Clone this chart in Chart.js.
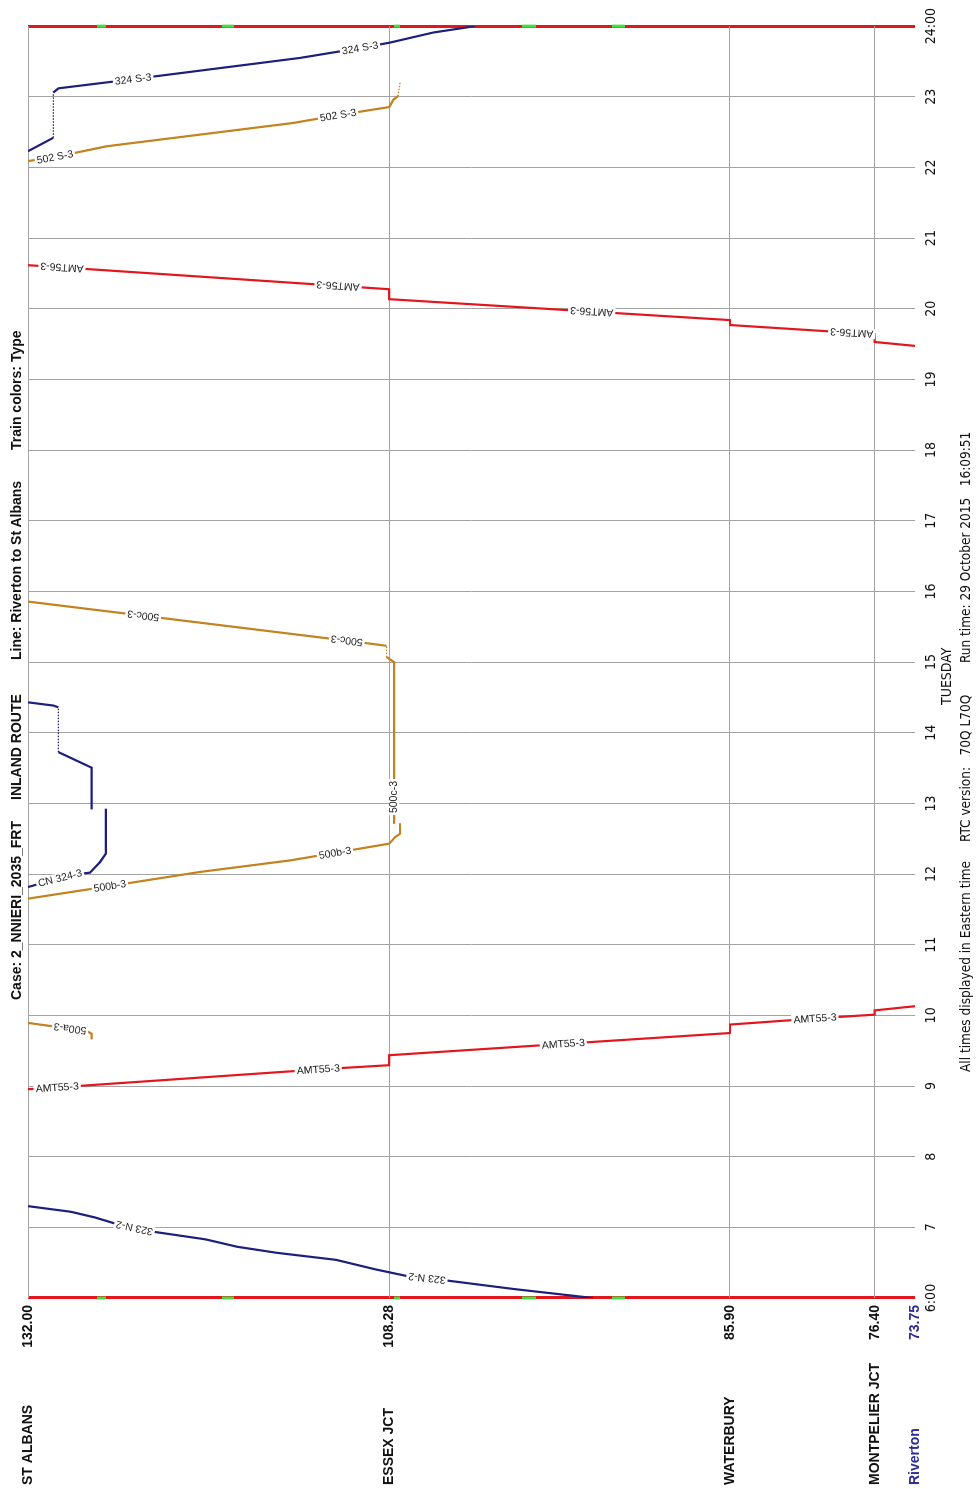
<!DOCTYPE html>
<html>
<head>
<meta charset="utf-8">
<script src="https://cdn.jsdelivr.net/npm/chart.js@4.4.0/dist/chart.umd.min.js"></script>
<style>
  html, body { margin: 0; padding: 0; background: #fff; }
  body { width: 977px; height: 1489px; overflow: hidden; position: relative; }
  /* the graph is laid out landscape and turned a quarter turn, like the printed sheet */
  #sheet { position: absolute; left: 0; top: 0; width: 1489px; height: 977px;
           transform-origin: 0 0; transform: translate(0, 1489px) rotate(-90deg); }
  #sheet canvas { position: absolute; left: 0; top: 0; }
  .t { position: absolute; white-space: nowrap; color: #111; }
  .head { top: 8px; font: bold 14px 'Liberation Sans', Arial, sans-serif; }
  .foot { top: 957px; font: 13.5px 'Liberation Sans Narrow', 'DejaVu Sans Condensed', sans-serif; }
  .day { top: 938px; font: 14px 'Liberation Sans Narrow', 'DejaVu Sans Condensed', sans-serif; }
</style>
</head>
<body>
<div id="sheet">
  <canvas id="chart" width="1489" height="977"></canvas>
  <div class="t head" style="left:489px">Case: 2_NNIERI_2035_FRT</div>
  <div class="t head" style="left:689px">INLAND ROUTE</div>
  <div class="t head" style="left:829px">Line: Riverton to St Albans</div>
  <div class="t head" style="left:1039px">Train colors: Type</div>
  <div class="t day" style="left:784px">TUESDAY</div>
  <div class="t foot" style="left:417px">All times displayed in Eastern time</div>
  <div class="t foot" style="left:647px">RTC version:&nbsp;&nbsp;&nbsp;70Q L70Q</div>
  <div class="t foot" style="left:826px">Run time: 29 October 2015&nbsp;&nbsp;&nbsp;16:09:51</div>
</div>
<script>
const hourTicks = [6, 7, 8, 9, 10, 11, 12, 13, 14, 15, 16, 17, 18, 19, 20, 21, 22, 23, 24];
const hourLabels = ['6:00', '7', '8', '9', '10', '11', '12', '13', '14', '15', '16', '17', '18', '19', '20', '21', '22', '23', '24:00'];

const stationNames = ['Riverton', 'MONTPELIER JCT', 'WATERBURY', 'ESSEX JCT', 'ST ALBANS'];
const stationMileposts = [73.75, 76.40, 85.90, 108.28, 132.00];

// sidings marked green along the day boundaries
const sidingStart = [127.47, 119.26, 107.96, 99.56, 93.65];
const sidingEnd = [126.88, 118.47, 107.57, 98.64, 92.79];

// train paths as [hour, milepost]
const train323N = [[6.00, 94.90], [6.127, 100.10], [6.255, 104.77], [6.28, 105.80], [6.31, 107.10], [6.405, 109.18],
  [6.54, 111.77], [6.64, 115.67], [6.725, 118.26], [6.83, 120.34], [6.94, 123.84], [6.99, 125.01],
  [7.056, 126.31], [7.14, 127.61], [7.22, 129.17], [7.30, 132.00]];
const trainAMT55 = [[8.955, 132.00], [8.98, 130.08], [9.235, 112.94], [9.295, 108.28], [9.436, 108.28], [9.597, 96.85],
  [9.75, 85.90], [9.87, 85.90], [9.956, 80.32], [10.01, 76.40], [10.07, 76.40], [10.13, 73.75]];
const train500a = [[9.66, 127.82], [9.74, 127.82], [9.78, 128.15], [9.812, 129.24], [9.893, 132.00]];
const trainCN324a = [[11.816, 132.00], [11.943, 129.90], [12.005, 128.47], [12.02, 127.93], [12.17, 127.27],
  [12.29, 126.88], [12.925, 126.88]];
const trainCN324b = [[12.915, 127.82], [13.505, 127.82], [13.725, 130.00], [14.36, 130.00], [14.385, 130.34], [14.43, 132.00]];
const train500b = [[11.652, 132.00], [11.83, 126.62], [12.03, 120.70], [12.193, 114.79], [12.30, 111.84],
  [12.43, 108.28], [12.52, 107.90], [12.57, 107.57], [12.72, 107.57]];
const train500c = [[12.71, 107.96], [13.09, 107.96], [15.00, 107.96], [15.07, 108.45], [15.23, 108.45],
  [15.28, 110.20], [15.303, 111.07], [15.656, 124.43], [15.856, 132.00]];
const trainAMT56 = [[19.475, 73.75], [19.53, 76.40], [19.64, 76.40], [19.66, 77.91], [19.77, 85.90], [19.84, 85.90],
  [19.96, 94.98], [20.136, 108.28], [20.277, 108.28], [20.325, 111.64], [20.586, 129.77], [20.617, 132.00]];
const train502S = [[22.09, 132.00], [22.148, 130.23], [22.30, 126.83], [22.63, 114.58], [22.74, 111.64],
  [22.855, 108.28], [22.96, 108.00], [23.01, 107.70], [23.20, 107.57]];
const train324S = [[22.23, 132.00], [22.42, 130.34], [23.06, 130.34], [23.12, 130.00], [23.25, 125.10],
  [23.55, 114.14], [23.69, 110.20], [23.765, 108.28], [23.91, 105.38], [24.00, 102.64]];

const NAVY = '#1d1f7d';
const ORANGE = '#c4821e';
const RED = '#e3161e';
const GREEN = '#3fe03f';
const GRID = '#a3a3a3';
const BLUE_TXT = '#2d2d94';
const NARROW = "'Liberation Sans Narrow', 'DejaVu Sans Condensed', sans-serif";

// name, path, colour, dwell segments drawn dotted, labels as [point index, upside down]
const trains = [
  ['323 N-2', train323N, NAVY, [], [[3, 1], [11, 1]]],
  ['AMT55-3', trainAMT55, RED, [], [[1, 0], [2, 0], [5, 0], [8, 0]]],
  ['500a-3', train500a, ORANGE, [], [[3, 1]]],
  ['CN 324-3', trainCN324a, NAVY, [], [[1, 0]]],
  ['CN 324-3', trainCN324b, NAVY, [2], []],
  ['500b-3', train500b, ORANGE, [], [[1, 0], [4, 0]]],
  ['500c-3', train500c, ORANGE, [3], [[1, 0], [6, 1], [7, 1]]],
  ['AMT56-3', trainAMT56, RED, [], [[3, 1], [6, 1], [9, 1], [10, 1]]],
  ['502 S-3', train502S, ORANGE, [7], [[1, 0], [4, 0]]],
  ['324 S-3', train324S, NAVY, [1], [[4, 0], [6, 0]]]
];

const datasets = [];
trains.forEach(([name, path, color, dotted, labels]) => {
  datasets.push({
    label: name,
    data: path.map(p => ({ x: p[0], y: p[1] })),
    showLine: true,
    borderColor: color,
    borderWidth: 2.2,
    pointRadius: 0,
    yAxisID: 'mp',
    segment: {
      borderDash: c => dotted.includes(c.p0DataIndex) ? [1.5, 1.5] : undefined,
      borderWidth: c => dotted.includes(c.p0DataIndex) ? 1.3 : undefined
    },
    trainLabels: labels
  });
});
[6, 24].forEach(h => {
  sidingStart.forEach((s, i) => {
    datasets.push({
      label: 'siding',
      data: [{ x: h, y: s }, { x: h, y: sidingEnd[i] }],
      showLine: true,
      borderColor: GREEN,
      borderWidth: 3,
      pointRadius: 0,
      yAxisID: 'mp',
      clip: false
    });
  });
});

// train names written along their lines, on a white gap
const trainLabelPlugin = {
  id: 'trainLabels',
  afterDatasetsDraw(chart) {
    const ctx = chart.ctx;
    ctx.save();
    ctx.font = "10.5px 'Liberation Sans', Arial, sans-serif";
    ctx.textAlign = 'center';
    ctx.textBaseline = 'middle';
    chart.data.datasets.forEach((ds, di) => {
      if (!ds.trainLabels) return;
      const pts = chart.getDatasetMeta(di).data;
      ds.trainLabels.forEach(([i, flip]) => {
        const a = pts[i - 1], b = pts[i + 1], p = pts[i];
        let dx = b.x - a.x, dy = b.y - a.y;
        if (dy < 0) { dx = -dx; dy = -dy; }
        const ang = Math.atan2(dy, dx) + (flip ? Math.PI : 0);
        const w = ctx.measureText(ds.label).width;
        ctx.save();
        ctx.translate(p.x, p.y);
        ctx.rotate(ang);
        ctx.fillStyle = '#fff';
        ctx.fillRect(-w / 2 - 2, -5, w + 4, 10);
        ctx.fillStyle = '#222';
        ctx.fillText(ds.label, 0, 0.5);
        ctx.restore();
      });
    });
    ctx.restore();
  }
};

const edge = v => v === 6 || v === 24;

new Chart(document.getElementById('chart'), {
  type: 'scatter',
  data: { datasets },
  options: {
    responsive: false,
    devicePixelRatio: 1,
    animation: false,
    layout: { padding: { top: 28, left: 4, right: 25, bottom: 0 } },
    plugins: { legend: { display: false }, tooltip: { enabled: false } },
    scales: {
      x: {
        type: 'linear', min: 6, max: 24, position: 'bottom',
        afterBuildTicks: s => { s.ticks = hourTicks.map(v => ({ value: v })); },
        afterFit: s => { s.height = 62; },
        ticks: {
          autoSkip: false, maxRotation: 0, padding: 8, color: '#111',
          font: { size: 14, family: NARROW },
          callback: v => hourLabels[hourTicks.indexOf(v)]
        },
        grid: {
          drawTicks: false,
          color: c => edge(c.tick && c.tick.value) ? RED : GRID,
          lineWidth: c => edge(c.tick && c.tick.value) ? 3 : 1
        },
        border: { display: false }
      },
      mp: {
        type: 'linear', min: 73.75, max: 132, position: 'left', weight: 0,
        afterBuildTicks: s => { s.ticks = stationMileposts.map(v => ({ value: v })); },
        afterFit: s => { s.width = 60; },
        ticks: {
          autoSkip: false, padding: 7,
          font: { size: 14, weight: 'bold', family: "'Liberation Sans', Arial, sans-serif" },
          color: c => c.tick.value === 73.75 ? BLUE_TXT : '#111',
          callback: v => v.toFixed(2)
        },
        grid: {
          drawTicks: false,
          color: c => c.tick && c.tick.value === 73.75 ? 'rgba(0,0,0,0)' : GRID,
          lineWidth: 1
        },
        border: { display: false }
      },
      st: {
        type: 'linear', min: 73.75, max: 132, position: 'left', weight: 1,
        afterBuildTicks: s => { s.ticks = stationMileposts.map(v => ({ value: v })); },
        afterFit: s => { s.width = 127; },
        ticks: {
          autoSkip: false, padding: 0, crossAlign: 'far',
          font: { size: 14, weight: 'bold', family: "'Liberation Sans', Arial, sans-serif" },
          color: c => c.tick.value === 73.75 ? BLUE_TXT : '#111',
          callback: v => stationNames[stationMileposts.indexOf(v)]
        },
        grid: { display: false },
        border: { display: false }
      }
    }
  },
  plugins: [trainLabelPlugin]
});
</script>
</body>
</html>
